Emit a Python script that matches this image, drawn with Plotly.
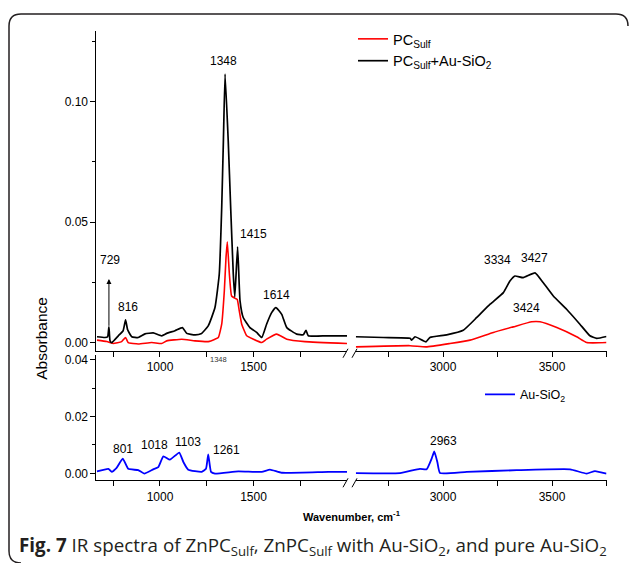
import plotly.graph_objects as go

W, H = 629, 563

# ---------------- data ----------------
pc_left_wn = [663, 715, 733, 750, 795, 816, 830, 884, 955, 1009, 1036, 1116, 1187, 1258, 1294, 1312,
              1330, 1344, 1353, 1360, 1371, 1383, 1400, 1413, 1424, 1437, 1464, 1499, 1544, 1570,
              1624, 1678, 1775, 2000]
pc_left_abs = [0.0011, 0.0005, 0.0001, -0.0003, 0.0005, 0.0022, 0.0001, -0.0005, 0.0001, -0.0003,
               0.0008, 0.0015, 0.0008, 0.0005, 0.0015, 0.0022, 0.0077, 0.0215, 0.0353, 0.0419,
               0.0285, 0.0194, 0.0185, 0.0180, 0.0132, 0.0077, 0.0029, 0.0015, 0.0001, 0.0015,
               0.0036, 0.0015, 0.0005, -0.0003]
pc_right_wn = [2600, 2849, 2922, 3032, 3124, 3231, 3322, 3407, 3445, 3522, 3613, 3659, 3750]
pc_right_abs = [-0.0017, -0.0012, -0.0017, -0.0003, 0.0011, 0.0043, 0.0066, 0.0087, 0.0087,
                0.0063, 0.0025, 0.0001, 0.0001]

pcau_left_wn = [663, 706, 720, 727, 733, 742, 777, 803, 816, 827, 849, 884, 920, 964, 1009, 1036,
                1080, 1120, 1143, 1187, 1219, 1258, 1294, 1317, 1330, 1339, 1348, 1365, 1378,
                1392, 1400, 1415, 1428, 1445, 1481, 1517, 1544, 1570, 1597, 1620, 1651, 1678,
                1731, 1766, 1781, 1793, 1891, 2000]
pcau_left_abs = [0.0025, 0.0022, 0.0025, 0.0066, 0.0008, 0.0001, 0.0029, 0.0050, 0.0095, 0.0054,
                 0.0025, 0.0022, 0.0037, 0.0041, 0.0029, 0.0039, 0.0050, 0.0063, 0.0039, 0.0033,
                 0.0037, 0.0070, 0.0146, 0.0285, 0.0560, 0.0835, 0.1114, 0.0835, 0.0560, 0.0285,
                 0.0190, 0.0398, 0.0174, 0.0105, 0.0063, 0.0043, 0.0022, 0.0077, 0.0125, 0.0146,
                 0.0118, 0.0063, 0.0036, 0.0033, 0.0052, 0.0029, 0.0029, 0.0029]
pcau_right_wn = [2600, 2726, 2849, 2856, 2872, 2922, 2940, 3017, 3093, 3155, 3216, 3277, 3307,
                 3330, 3368, 3422, 3460, 3506, 3567, 3628, 3674, 3705, 3750]
pcau_right_abs = [0.0025, 0.0022, 0.0019, 0.0011, 0.0025, 0.0004, 0.0022, 0.0033, 0.0052, 0.0105,
                  0.0160, 0.0208, 0.0256, 0.0277, 0.0270, 0.0290, 0.0249, 0.0194, 0.0139, 0.0077,
                  0.0029, 0.0018, 0.0026]

au_left_wn = [663, 724, 742, 768, 801, 830, 884, 916, 964, 991, 1018, 1053, 1103, 1125, 1151, 1223,
              1246, 1258, 1273, 1294, 1419, 1544, 1588, 1651, 1900, 2000]
au_left_abs = [0.0007, 0.0016, 0.0005, 0.0019, 0.0052, 0.0016, 0.0011, -0.0001, 0.0014, 0.0022,
               0.0060, 0.0048, 0.0073, 0.0040, 0.0013, 0.0005, 0.0016, 0.0067, 0.0005, -0.0001,
               0.0007, 0.0005, 0.0013, 0.0002, 0.0005, 0.0005]
au_right_wn = [2600, 2803, 2894, 2925, 2948, 2960, 2974, 2986, 3109, 3338, 3583, 3659, 3697, 3750]
au_right_abs = [0.0001, 0.0001, 0.0016, 0.0014, 0.0052, 0.0077, 0.0040, 0.0001, 0.0005, 0.0011,
                0.0014, -0.0001, 0.0008, -0.0001]

x_ticks_left = [750, 1000, 1250, 1500, 1750]
x_ticktext_left = ["", "1000", "", "1500", ""]
x_ticks_right = [2750, 3000, 3250, 3500, 3750]
x_ticktext_right = ["", "3000", "", "3500", ""]
y_ticks_top = [0.0, 0.05, 0.10]
y_ticktext_top = ["0.00", "0.05", "0.10"]
y_ticks_bot = [0.0, 0.02, 0.04]
y_ticktext_bot = ["0.00", "0.02", "0.04"]

upper_labels = [("1348", 224, 59), ("729", 110, 259), ("816", 128, 306), ("1415", 253, 233),
                ("1614", 276, 294), ("3334", 497, 259), ("3427", 534, 257), ("3424", 526, 307)]
lower_labels = [("801", 123, 449), ("1018", 154, 445), ("1103", 188, 442), ("1261", 226, 450),
                ("2963", 443, 441)]

# ---------------- helpers ----------------
def px(x):
    return x / W

def py(y):
    return 1 - y / H

FONT = "Liberation Sans"
RED, BLACK, BLUE = "#ff0000", "#000000", "#0000ff"

fig = go.Figure()
common = dict(mode="lines", line_shape="spline")
fig.add_trace(go.Scatter(x=pc_left_wn, y=pc_left_abs, xaxis="x", yaxis="y",
                         line=dict(color=RED, width=1.6, smoothing=0.4), name="PC<sub>Sulf</sub>",
                         legendgroup="pc", legend="legend", **common))
fig.add_trace(go.Scatter(x=pc_right_wn, y=pc_right_abs, xaxis="x2", yaxis="y",
                         line=dict(color=RED, width=1.6, smoothing=0.4), name="PC<sub>Sulf</sub>",
                         legendgroup="pc", showlegend=False, **common))
fig.add_trace(go.Scatter(x=pcau_left_wn, y=pcau_left_abs, xaxis="x", yaxis="y",
                         line=dict(color=BLACK, width=1.7, smoothing=0.4),
                         name="PC<sub>Sulf</sub>+Au-SiO<sub>2</sub>",
                         legendgroup="pcau", legend="legend", **common))
fig.add_trace(go.Scatter(x=pcau_right_wn, y=pcau_right_abs, xaxis="x2", yaxis="y",
                         line=dict(color=BLACK, width=1.7, smoothing=0.4),
                         name="PC<sub>Sulf</sub>+Au-SiO<sub>2</sub>",
                         legendgroup="pcau", showlegend=False, **common))
fig.add_trace(go.Scatter(x=au_left_wn, y=au_left_abs, xaxis="x3", yaxis="y2",
                         line=dict(color=BLUE, width=1.8, smoothing=0.4), name="Au-SiO<sub>2</sub>",
                         legendgroup="au", legend="legend2", **common))
fig.add_trace(go.Scatter(x=au_right_wn, y=au_right_abs, xaxis="x4", yaxis="y2",
                         line=dict(color=BLUE, width=1.8, smoothing=0.4), name="Au-SiO<sub>2</sub>",
                         legendgroup="au", showlegend=False, **common))

dom_left = [px(96.4), px(347)]
dom_right = [px(355.8), px(606.5)]
dom_top = [py(350), py(29)]
dom_bot = [py(480), py(354)]

xcommon = dict(showline=True, linecolor="black", linewidth=1, ticks="outside", ticklen=5,
               tickwidth=1, tickcolor="black", showgrid=False, zeroline=False,
               tickfont=dict(family=FONT, size=12, color="black"), tickmode="array")
ycommon = dict(showline=True, linecolor="black", linewidth=1, ticks="outside", ticklen=5,
               tickwidth=1, tickcolor="black", showgrid=False, zeroline=False,
               tickfont=dict(family=FONT, size=12, color="black"), tickmode="array")

fig.update_layout(
    width=W, height=H, margin=dict(l=0, r=0, t=0, b=0),
    paper_bgcolor="white", plot_bgcolor="rgba(0,0,0,0)",
    font=dict(family=FONT),
    xaxis=dict(domain=dom_left, range=[660, 2000], anchor="y", tickvals=x_ticks_left,
               ticktext=x_ticktext_left, **xcommon),
    xaxis2=dict(domain=dom_right, range=[2600, 3750], anchor="y", tickvals=x_ticks_right,
                ticktext=x_ticktext_right, **xcommon),
    xaxis3=dict(domain=dom_left, range=[660, 2000], anchor="y2", tickvals=x_ticks_left,
                ticktext=x_ticktext_left, **xcommon),
    xaxis4=dict(domain=dom_right, range=[2600, 3750], anchor="y2", tickvals=x_ticks_right,
                ticktext=x_ticktext_right, **xcommon),
    yaxis=dict(domain=dom_top, range=[-0.0033, 0.1293], anchor="x", tickvals=y_ticks_top,
               ticktext=y_ticktext_top,
               minor=dict(tickmode="array", tickvals=[0.025, 0.075, 0.125], ticks="outside",
                          ticklen=3, tickcolor="black"), **ycommon),
    yaxis2=dict(domain=dom_bot, range=[-0.00246, 0.0418], anchor="x3", tickvals=y_ticks_bot,
                ticktext=y_ticktext_bot,
                minor=dict(tickmode="array", tickvals=[0.01, 0.03], ticks="outside",
                           ticklen=3, tickcolor="black"), **ycommon),
    legend=dict(x=px(353), y=py(21), xanchor="left", yanchor="top", bgcolor="rgba(0,0,0,0)",
                font=dict(family=FONT, size=14.5, color="black"), tracegroupgap=0,
                itemwidth=30),
    legend2=dict(x=px(480), y=py(379), xanchor="left", yanchor="top", bgcolor="rgba(0,0,0,0)",
                 font=dict(family=FONT, size=12.5, color="black"), itemwidth=30),
    showlegend=True,
)

annotations = []
for txt, x, y in upper_labels + lower_labels:
    annotations.append(dict(text=txt, x=px(x), y=py(y), xref="paper", yref="paper",
                            showarrow=False, xanchor="center", yanchor="middle",
                            font=dict(family=FONT, size=12, color="black")))
# arrow at 729
annotations.append(dict(text="", x=727, y=0.0265, xref="x", yref="y", ax=727, ay=0.0064,
                        axref="x", ayref="y", showarrow=True, arrowhead=2, arrowsize=1,
                        arrowwidth=1, arrowcolor="black"))
# tiny stray label under axis
annotations.append(dict(text="1348", x=px(218), y=py(359), xref="paper", yref="paper",
                        showarrow=False, xanchor="center", yanchor="middle",
                        font=dict(family=FONT, size=7.5, color="#333333")))
annotations.append(dict(text="Absorbance", x=px(42), y=py(338), xref="paper", yref="paper",
                        showarrow=False, textangle=-90, xanchor="center", yanchor="middle",
                        font=dict(family=FONT, size=15.5, color="black")))
annotations.append(dict(text="<b>Wavenumber, cm<sup>-1</sup></b>", x=px(352), y=py(516),
                        xref="paper", yref="paper", showarrow=False,
                        xanchor="center", yanchor="middle",
                        font=dict(family=FONT, size=11, color="black")))
annotations.append(dict(text="<b>Fig. 7</b> IR spectra of ZnPC<sub>Sulf</sub>, ZnPC<sub>Sulf</sub> "
                             "with Au-SiO<sub>2</sub>, and pure Au-SiO<sub>2</sub>",
                        x=px(17), y=py(546), xref="paper", yref="paper", showarrow=False,
                        xanchor="left", yanchor="middle",
                        font=dict(family="Open Sans", size=18.8, color="#231f20")))
fig.update_layout(annotations=annotations)

shapes = []
# axis break marks
for ybase in (350, 480):
    for x0 in (343, 352):
        shapes.append(dict(type="line", xref="paper", yref="paper",
                           x0=px(x0), y0=py(ybase + 7), x1=px(x0 + 5), y1=py(ybase - 2),
                           line=dict(color="black", width=1)))
# rounded frame
path = (f"M {px(21)},{py(563)} Q {px(9)},{py(563)} {px(9)},{py(551)} "
        f"L {px(9)},{py(24)} Q {px(9)},{py(12)} {px(21)},{py(12)} "
        f"L {px(616)},{py(12)} Q {px(628)},{py(12)} {px(628)},{py(24)}")
shapes.append(dict(type="path", xref="paper", yref="paper", path=path,
                   line=dict(color="#231f20", width=1.5)))
fig.update_layout(shapes=shapes)

fig.write_html("out.html")
